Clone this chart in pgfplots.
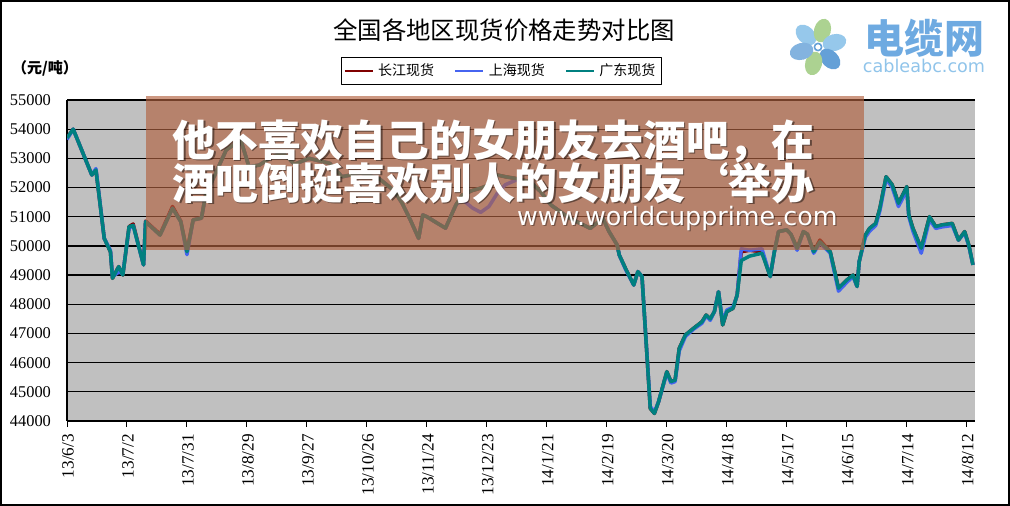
\documentclass[border=0pt]{standalone}
\usepackage{fontspec}
\setmainfont{Liberation Serif}
\newfontfamily\cjk{Noto Sans CJK SC}
\newfontfamily\dejavu{DejaVu Sans}
\usepackage{pgfplots}
\usepackage{pgfplotstable}
\pgfplotsset{compat=1.18}

\definecolor{cjred}{RGB}{128,0,0}
\definecolor{shblue}{RGB}{70,100,240}
\definecolor{gdteal}{RGB}{0,128,128}
\definecolor{plotgray}{RGB}{192,192,192}
\definecolor{overlaybrown}{RGB}{178,97,63}
\definecolor{logoblue}{RGB}{110,170,225}
\definecolor{logolight}{RGB}{150,200,235}
\definecolor{logogreen}{RGB}{172,210,145}
\definecolor{logomid}{RGB}{100,160,215}

% day (from 13/6/3), 长江, 上海, 广东
\pgfplotstableread{
day cj sh gd
0 53700 53650 53700
3 54000 54000 54000
12 52430 52430 52430
14 52600 52650 52600
18 50260 50260 50260
21 49800 49850 49800
22 48890 48950 48890
25 49290 49100 49290
27 49000 49050 49000
30 50660 50600 50660
32 50750 50700 50700
37 49350 49350 49350
38 50850 50830 50830
45 50400 50370 50370
51 51350 51290 51290
55 50850 50830 50830
58 49800 49700 49800
61 50900 50890 50890
65 50950 50950 50950
67 51740 51740 51740
77 53290 53290 53290
84 53630 53630 53630
88 52710 52710 52710
93 52770 52770 52770
98 53000 53000 53000
104 53200 53200 53200
110 52800 52800 52800
117 53000 53000 53000
127 52830 52830 52830
133 52370 52370 52370
142 52500 52500 52500
151 52300 52300 52300
158 51900 51900 51900
162 51470 51470 51470
166 50890 50890 50890
170 50260 50260 50260
172 51060 51060 51060
174 51000 51000 51000
179 50780 50780 50780
183 50610 50610 50610
188 51400 51400 51400
191 51740 51600 51740
196 51900 51300 51900
200 51980 51150 51980
204 52090 51350 52090
208 52430 51800 52430
212 52370 52100 52370
217 52310 52250 52310
224 52200 52200 52200
229 51860 51860 51860
234 51400 51400 51400
243 50950 50950 50950
253 50600 50600 50600
259 50950 50950 50950
262 50500 50500 50500
266 50030 50030 50030
267 49690 49690 49690
270 49230 49200 49230
274 48660 48660 48660
276 49120 49120 49120
278 48950 48950 48950
282 44430 44500 44430
284 44260 44300 44260
286 44660 44660 44660
290 45690 45650 45690
292 45350 45300 45350
294 45400 45350 45400
296 46490 46400 46490
299 46950 46900 46950
303 47180 47150 47180
307 47400 47350 47400
309 47630 47600 47630
311 47500 47450 47500
313 47750 47750 47750
315 48430 48430 48430
317 47290 47400 47290
319 47750 47800 47750
322 47860 47900 47860
324 48320 48300 48320
326 49800 49900 49500
330 49850 49850 49650
336 49800 49900 49750
340 48950 48950 48950
342 49800 49800 49800
344 50490 50490 50490
348 50550 50550 50550
350 50400 50400 50400
353 49920 49850 49920
356 50490 50490 50490
358 50400 50400 50400
361 49800 49750 49800
364 50200 50100 50140
369 49800 49750 49800
373 48550 48450 48550
377 48830 48750 48830
380 49000 48950 49000
382 48610 48610 48610
383 49460 49460 49460
386 50370 50300 50370
388 50600 50500 50600
391 50770 50700 50770
393 51290 51200 51290
396 52370 52300 52370
399 52090 52000 52090
402 51460 51350 51460
406 52030 51900 52030
407 51060 51000 51060
409 50600 50500 50600
413 49920 49750 49920
417 51000 50900 51000
420 50660 50600 50660
423 50720 50650 50720
428 50770 50700 50770
431 50200 50200 50200
434 50490 50450 50490
436 50030 50000 50030
438 49350 49350 49350
}\prices

\begin{document}
\begin{tikzpicture}
\useasboundingbox (0,0) rectangle (505pt,-253pt);

\begin{axis}[
    at={(33.5pt,-210.5pt)}, anchor=south west,
    scale only axis,
    width=454pt, height=160.5pt,
    xmin=0, xmax=439,
    ymin=44000, ymax=55000,
    axis background/.style={fill=plotgray},
    axis x line*=bottom, axis y line*=left,
    axis line style={black, line width=0.6pt, -},
    xtick={0,29,...,435},
    xticklabels={13/6/3,13/7/2,13/7/31,13/8/29,13/9/27,13/10/26,13/11/24,13/12/23,14/1/21,14/2/19,14/3/20,14/4/18,14/5/17,14/6/15,14/7/14,14/8/12},
    xtick align=outside,
    major tick length=3pt,
    xtick style={black, line width=0.5pt},
    xticklabel style={rotate=90, anchor=east, font=\fontsize{8.6}{9}\selectfont, yshift=-0.5pt},
    ytick={44000,45000,...,55000},
    ytick style={draw=none},
    scaled y ticks=false,
    yticklabel style={font=\fontsize{8.2}{9}\selectfont, xshift=-4.5pt,
        /pgf/number format/.cd, set thousands separator={}, assume math mode=true},
    ymajorgrids,
    major grid style={black, line width=0.6pt},
    legend style={at={(axis description cs:0.4785,1.09)}, anchor=center,
        legend columns=3, draw=black, line width=0.5pt, fill=white,
        font=\cjk\fontsize{7}{8}\selectfont, inner sep=1.2pt,
        /tikz/every even column/.append style={column sep=8pt}},
    legend image code/.code={\draw[#1, line width=1.3pt] (0pt,0pt) -- (14pt,0pt);},
    line join=round,
]
\addplot[cjred, line width=1.75pt] table[x=day, y=cj] {\prices};
\addlegendentry{长江现货}
\addplot[shblue, line width=1.75pt] table[x=day, y=sh] {\prices};
\addlegendentry{上海现货}
\addplot[gdteal, line width=1.75pt] table[x=day, y=gd] {\prices};
\addlegendentry{广东现货}
\end{axis}

% title and unit
\node[font=\cjk\fontsize{12.2}{14}\selectfont] at (252pt,-15pt) {全国各地区现货价格走势对比图};
\node[font=\cjk\bfseries\fontsize{7.5}{9}\selectfont] at (22.5pt,-34pt) {（元/吨）};

% logo
\begin{scope}[shift={(409pt,-23.5pt)}]
  \fill[logolight, rotate=135] (8.5pt,0) ellipse (6pt and 4.2pt);
  \fill[logogreen, rotate=75] (8.5pt,0) ellipse (6pt and 4.2pt);
  \fill[logolight, rotate=15] (8.5pt,0) ellipse (6pt and 4.2pt);
  \fill[logomid, rotate=-45] (8.5pt,0) ellipse (6pt and 4.2pt);
  \fill[logogreen, rotate=-105] (8.5pt,0) ellipse (6pt and 4.2pt);
  \fill[logomid!80!white, rotate=195] (8.5pt,0) ellipse (6pt and 4.2pt);
  \filldraw[fill=white, draw=logomid, line width=0.8pt] (0,0) circle (1.8pt);
\end{scope}
\node[font=\cjk\bfseries\fontsize{20}{22}\selectfont, text=logoblue, inner sep=0] at (462pt,-19pt) {电缆网};
\node[font=\dejavu\fontsize{8.8}{10}\selectfont, text=logolight!85!logoblue, inner sep=0] at (462pt,-33pt) {cableabc.com};

% overlay banner
\fill[overlaybrown, opacity=0.65] (73pt,-48pt) rectangle (432pt,-125pt);
\begin{scope}[every node/.style={anchor=west, inner sep=0,
    font=\cjk\bfseries\fontsize{21.4}{22}\selectfont}]
  \node[text=black, opacity=0.45] at (86.8pt,-71.2pt) {他不喜欢自己的女朋友去酒吧，在};
  \node[text=white] at (86pt,-70.5pt) {他不喜欢自己的女朋友去酒吧，在};
  \node[text=black, opacity=0.45] at (86.8pt,-92.2pt) {酒吧倒挺喜欢别人的女朋友\makebox[1em][r]{‘}举办};
  \node[text=white] at (86pt,-91.5pt) {酒吧倒挺喜欢别人的女朋友\makebox[1em][r]{‘}举办};
\end{scope}
\node[anchor=east, inner sep=0, font=\dejavu\fontsize{12.7}{14}\selectfont, text=black, opacity=0.35] at (419.6pt,-109.6pt) {www.worldcupprime.com};
\node[anchor=east, inner sep=0, font=\dejavu\fontsize{12.7}{14}\selectfont, text=white] at (419pt,-109pt) {www.worldcupprime.com};

% outer frame
\draw[black, line width=1pt] (0.5pt,-0.5pt) rectangle (504.5pt,-252.5pt);
\end{tikzpicture}
\end{document}
